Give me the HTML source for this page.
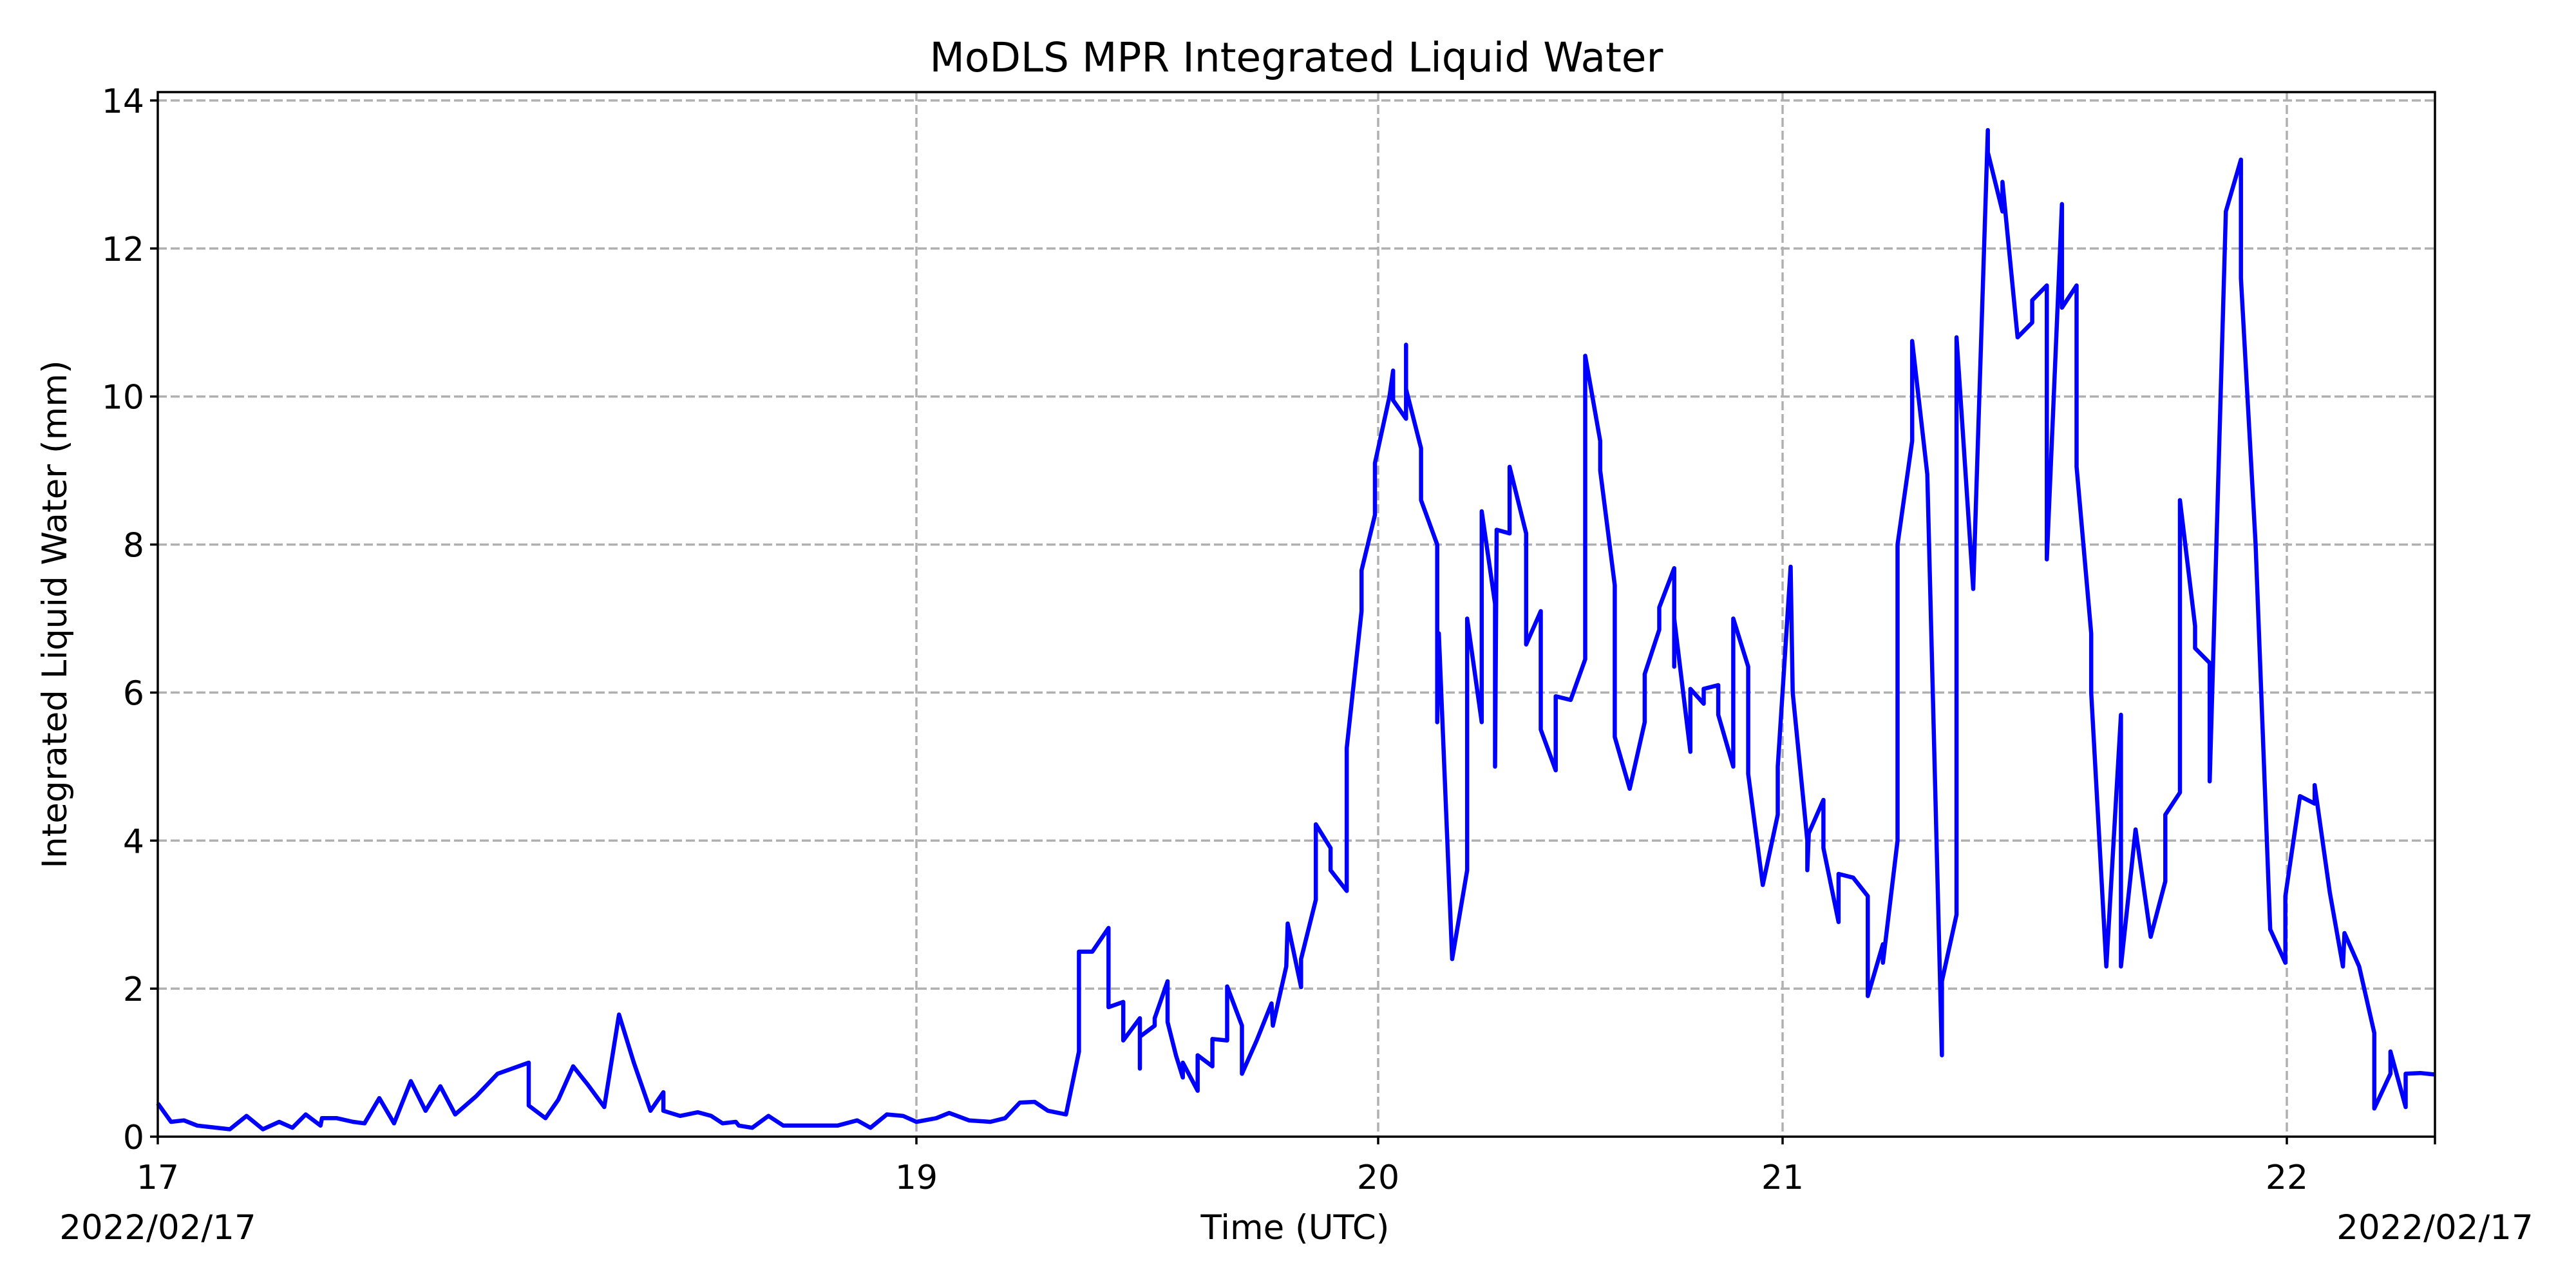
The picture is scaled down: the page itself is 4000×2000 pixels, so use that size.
<!DOCTYPE html>
<html><head><meta charset="utf-8"><style>
html,body{margin:0;padding:0;background:#fff;}
svg{display:block;font-family:"DejaVu Sans","Liberation Sans",sans-serif;}
</style></head><body>
<svg id="chart" width="4000" height="2000" viewBox="0 0 4000 2000" xmlns="http://www.w3.org/2000/svg">
<rect width="4000" height="2000" fill="#fff"/>
<text x="2013" y="111" font-size="63" text-anchor="middle">MoDLS MPR Integrated Liquid Water</text>
<g id="grid"></g>
<g id="series"></g>
<rect x="245" y="143" width="3536" height="1622" fill="none" stroke="#000" stroke-width="3.5"/>
<g id="axes"></g>
<text x="2011" y="1924" font-size="53" text-anchor="middle">Time (UTC)</text>
<text x="245" y="1924" font-size="53" text-anchor="middle">2022/02/17</text>
<text x="3781" y="1924" font-size="53" text-anchor="middle">2022/02/17</text>
<text x="0" y="0" font-size="53" text-anchor="middle" transform="translate(103,954) rotate(-90)">Integrated Liquid Water (mm)</text>
</svg>
<script>
const xTickHours = [17, 19, 20, 21, 22];
const xTickLabels = ["17", "19", "20", "21", "22"];
const yTicks = [0, 2, 4, 6, 8, 10, 12, 14];
const times = [17.000,17.035,17.069,17.104,17.190,17.234,17.277,17.320,17.355,17.390,17.429,17.433,17.472,17.515,17.545,17.584,17.623,17.667,17.706,17.745,17.784,17.840,17.896,17.978,17.978,18.022,18.056,18.095,18.134,18.177,18.216,18.255,18.299,18.333,18.333,18.377,18.424,18.459,18.489,18.524,18.532,18.567,18.610,18.649,18.727,18.792,18.844,18.879,18.922,18.965,19.000,
19.043,19.071,19.114,19.160,19.192,19.224,19.256,19.285,19.324,19.352,19.352,19.381,19.416,19.416,19.448,19.448,19.484,19.484,19.484,19.516,19.516,19.544,19.544,19.562,19.577,19.577,19.609,19.609,19.641,19.641,19.673,19.673,19.705,19.705,19.737,19.769,19.772,19.801,19.804,19.833,19.833,19.865,19.865,19.897,19.897,19.932,19.932,19.964,19.964,19.993,19.993,
20.028,20.037,20.037,20.069,20.069,20.069,20.106,20.106,20.146,20.146,20.150,20.183,20.220,20.220,20.256,20.256,20.289,20.289,20.293,20.325,20.325,20.366,20.366,20.402,20.402,20.439,20.439,20.476,20.512,20.512,20.549,20.549,20.585,20.585,20.622,20.659,20.659,20.695,20.695,20.732,20.732,20.732,20.772,20.772,20.805,20.805,20.841,20.841,20.878,20.878,20.915,20.915,20.951,20.988,20.988,
21.016,21.020,21.049,21.049,21.052,21.081,21.081,21.111,21.111,21.140,21.169,21.169,21.199,21.199,21.228,21.228,21.257,21.257,21.287,21.316,21.316,21.345,21.345,21.378,21.407,21.407,21.436,21.436,21.466,21.495,21.495,21.524,21.524,21.554,21.554,21.583,21.583,21.612,21.612,21.642,21.671,21.671,21.700,21.730,21.759,21.759,21.788,21.788,21.818,21.818,21.847,21.847,21.879,21.909,21.909,21.938,21.967,21.997,21.997,
22.026,22.055,22.055,22.085,22.111,22.114,22.143,22.173,22.173,22.205,22.205,22.235,22.235,22.264,22.293];
const water = [0.45,0.2,0.22,0.15,0.1,0.28,0.1,0.2,0.12,0.3,0.15,0.25,0.25,0.2,0.18,0.52,0.18,0.75,0.35,0.68,0.3,0.55,0.85,1.0,0.42,0.25,0.5,0.95,0.7,0.4,1.65,1.0,0.35,0.6,0.35,0.28,0.33,0.28,0.18,0.2,0.15,0.12,0.28,0.15,0.15,0.15,0.22,0.12,0.3,0.28,0.2,
0.25,0.32,0.22,0.2,0.25,0.46,0.47,0.35,0.3,1.15,2.5,2.5,2.82,1.75,1.82,1.3,1.6,0.92,1.35,1.5,1.6,2.1,1.55,1.1,0.8,1.0,0.62,1.1,0.95,1.32,1.3,2.03,1.5,0.85,1.3,1.8,1.5,2.3,2.88,2.02,2.4,3.2,4.22,3.9,3.6,3.32,5.25,7.1,7.65,8.4,9.1,
10.0,10.35,9.95,9.7,10.7,10.1,9.3,8.6,8.0,5.6,6.8,2.4,3.6,7.0,5.6,8.45,7.2,5.0,8.2,8.15,9.05,8.15,6.65,7.1,5.5,4.95,5.95,5.9,6.45,10.55,9.4,9.0,7.45,5.4,4.7,5.6,6.25,6.85,7.15,7.68,6.35,7.0,5.2,6.05,5.85,6.05,6.1,5.7,5.0,7.0,6.35,4.9,3.4,4.35,5.0,
7.7,6.0,4.0,3.6,4.1,4.55,3.9,2.9,3.55,3.5,3.25,1.9,2.6,2.35,4.0,8.0,9.4,10.75,8.95,1.1,2.1,3.0,10.8,7.4,13.6,13.3,12.5,12.9,10.8,11.0,11.3,11.5,7.8,12.6,11.2,11.5,9.05,6.8,6.0,2.3,5.7,2.3,4.15,2.7,3.45,4.35,4.65,8.6,6.9,6.6,6.4,4.8,12.5,13.2,11.6,8.0,2.8,2.35,3.25,
4.6,4.5,4.75,3.3,2.3,2.75,2.3,1.4,0.38,0.85,1.15,0.4,0.85,0.86,0.84];

// axis scale definitions (piecewise time axis)
const X_BREAK_H = [17, 19, 20, 21, 22, 22.293];
const X_BREAK_P = [245, 1423, 2140, 2768, 3551, 3781];
function xScale(h){
  for(let i=0;i<X_BREAK_H.length-1;i++){
    if(h<=X_BREAK_H[i+1]||i===X_BREAK_H.length-2){
      const t=(h-X_BREAK_H[i])/(X_BREAK_H[i+1]-X_BREAK_H[i]);
      return X_BREAK_P[i]+t*(X_BREAK_P[i+1]-X_BREAK_P[i]);
    }
  }
}
function yScale(v){ return 1765 - v*(1765-156)/14; }
const NS="http://www.w3.org/2000/svg";
const grid=document.getElementById('grid'), axes=document.getElementById('axes'), series=document.getElementById('series');
function mk(tag,attrs){const e=document.createElementNS(NS,tag);for(const k in attrs)e.setAttribute(k,attrs[k]);return e;}
yTicks.forEach(v=>{
  const y=yScale(v);
  if(v>0){const g=mk('line',{x1:245,x2:3781,y1:y,y2:y,stroke:'#b0b0b0','stroke-width':3.5,'stroke-dasharray':'14 6'});
  
  
  grid.appendChild(g);}
  const t=mk('line',{x1:233,x2:245,y1:y,y2:y,stroke:'#000','stroke-width':3.5});
  
  
  axes.appendChild(t);
  const l=mk('text',{x:224,y:y+19,'font-size':52,'text-anchor':'end'});
  
  
  l.textContent=String(v);axes.appendChild(l);
});
xTickHours.forEach((h,i)=>{
  const x=xScale(h);
  if(i>0){const g=mk('line',{x1:x,x2:x,y1:143,y2:1765,stroke:'#b0b0b0','stroke-width':3.5,'stroke-dasharray':'14 6'});
  
  
  grid.appendChild(g);}
  const t=mk('line',{x1:x,x2:x,y1:1765,y2:1777,stroke:'#000','stroke-width':3.5});
  
  
  axes.appendChild(t);
  const l=mk('text',{x:x,y:1846,'font-size':52,'text-anchor':'middle'});
  
  
  l.textContent=xTickLabels[i];axes.appendChild(l);
});
const rt=mk('line',{x1:3781,x2:3781,y1:1765,y2:1777,stroke:'#000','stroke-width':3.5});


axes.appendChild(rt);
const pts=times.map((h,i)=>xScale(h).toFixed(1)+','+yScale(water[i]).toFixed(1)).join(' ');
const line=mk('polyline',{points:pts,fill:'none',stroke:'#0000ff','stroke-width':6.5,'stroke-linejoin':'round'});


series.appendChild(line);
</script>
</body></html>
